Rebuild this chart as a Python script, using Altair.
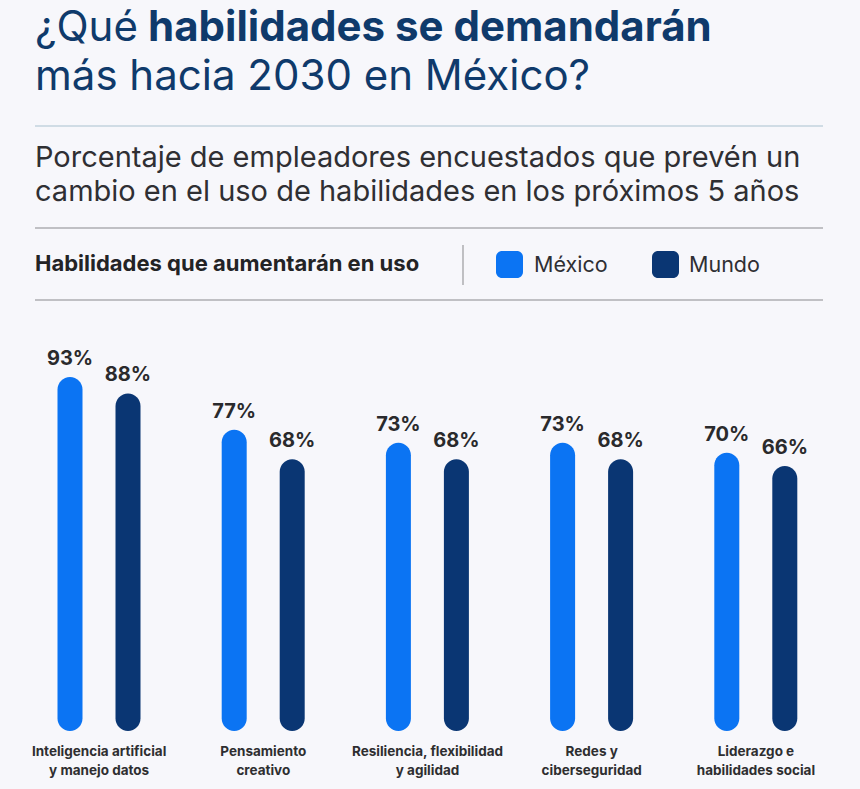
import altair as alt
import pandas as pd

categorias = [
    "Inteligencia artificial y manejo datos",
    "Pensamiento creativo",
    "Resiliencia, flexibilidad y agilidad",
    "Redes y ciberseguridad",
    "Liderazgo e habilidades social",
]
etiquetas = [
    "Inteligencia artificial\ny manejo datos",
    "Pensamiento\ncreativo",
    "Resiliencia, flexibilidad\ny agilidad",
    "Redes y\nciberseguridad",
    "Liderazgo e\nhabilidades social",
]
series = ["México", "Mundo"]
mexico = [93, 77, 73, 73, 70]
mundo = [88, 68, 68, 68, 66]
colores = ["#0b74f3", "#0a3673"]

rows = []
for c, a, b in zip(categorias, mexico, mundo):
    rows.append({"cat": c, "serie": "México", "valor": a})
    rows.append({"cat": c, "serie": "Mundo", "valor": b})
df = pd.DataFrame(rows)
df_lab = pd.DataFrame({"cat": categorias, "label": etiquetas})

BASE = -14.5
FONT = "Inter"
BG = "#f7f7fb"

xs = alt.X("cat:N", sort=categorias,
           scale=alt.Scale(range=[17, 838], paddingInner=0, paddingOuter=0), axis=None)
xo = alt.XOffset("serie:N", sort=series,
                 scale=alt.Scale(domain=series, range=[24, 140], paddingInner=0, paddingOuter=0))
ys = alt.Y("valor:Q", scale=alt.Scale(domain=[BASE, 93], range=[731, 377], zero=False, nice=False), axis=None)

bars = alt.Chart(df).mark_bar(width=25, cornerRadius=12.5).encode(
    x=xs, xOffset=xo, y=ys, y2=alt.datum(BASE),
    color=alt.Color("serie:N", scale=alt.Scale(domain=series, range=colores), legend=None),
)

vals = alt.Chart(df).transform_calculate(t="datum.valor + '%'").mark_text(
    font=FONT, fontWeight="bold", fontSize=20, color="#2a2a2c", baseline="alphabetic", dy=-12
).encode(x=xs, xOffset=xo, y=ys, text="t:N")

cat_labels = alt.Chart(df_lab).mark_text(
    font=FONT, fontWeight="bold", fontSize=13.5, color="#2e2e30", baseline="alphabetic",
    lineBreak="\n", lineHeight=19
).encode(x=xs, y=alt.value(756), text="label:N")

one = pd.DataFrame({"k": [0]})


def txt(s, x, y, size, weight="normal", color="#0f3a6b", align="left"):
    return alt.Chart(one).mark_text(
        text=s, font=FONT, fontSize=size, fontWeight=weight, color=color,
        align=align, baseline="alphabetic"
    ).encode(x=alt.value(x), y=alt.value(y))


def hrule(y, color, x1=35, x2=823, w=1.2):
    return alt.Chart(one).mark_rule(color=color, strokeWidth=w).encode(
        x=alt.value(x1), x2=alt.value(x2), y=alt.value(y))


def swatch(x, color):
    return alt.Chart(one).mark_rect(color=color, cornerRadius=6).encode(
        x=alt.value(x), x2=alt.value(x + 27), y=alt.value(251), y2=alt.value(278))


header = [
    txt("¿Qué", 35, 41, 42),
    txt("habilidades se demandarán", 148, 41, 42, "bold"),
    txt("más hacia 2030 en México?", 35, 90, 42),
    hrule(126, "#a9c1cf"),
    txt("Porcentaje de empleadores encuestados que prevén un", 35, 167, 29, color="#2f2f33"),
    txt("cambio en el uso de habilidades en los próximos 5 años", 35, 201, 29, color="#2f2f33"),
    hrule(228, "#8a8a8e"),
    txt("Habilidades que aumentarán en uso", 35, 271, 22, "bold", color="#232325"),
    alt.Chart(one).mark_rule(color="#9a9a9e", strokeWidth=1.2).encode(
        x=alt.value(463), y=alt.value(245), y2=alt.value(285)),
    swatch(496, colores[0]),
    txt("México", 534, 272, 21.5, color="#2f2f33"),
    swatch(652, colores[1]),
    txt("Mundo", 689, 272, 21.5, color="#2f2f33"),
    hrule(300, "#8a8a8e"),
]

chart = alt.layer(bars, vals, cat_labels, *header).properties(
    width=860, height=789, background=BG,
    autosize=alt.AutoSizeParams(type="none"), padding=0,
).configure_view(stroke=None)

chart.save("out.html", embed_options={"renderer": "svg", "actions": False})
